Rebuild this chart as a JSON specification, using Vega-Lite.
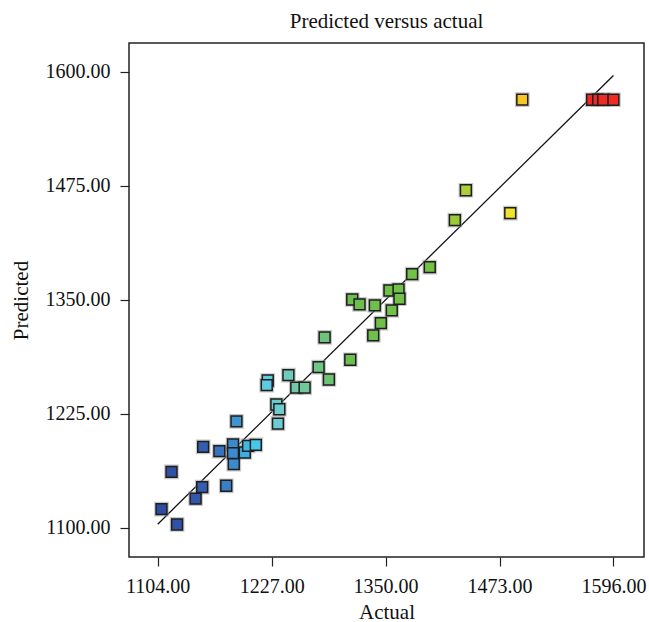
{
  "$schema": "https://vega.github.io/schema/vega-lite/v6.json",
  "autosize": {"type": "none"},
  "padding": {"left": 129, "top": 43, "right": 5, "bottom": 65},
  "width": 515,
  "height": 514,
  "background": "white",
  "title": {
    "text": "Predicted versus actual",
    "font": "Liberation Serif",
    "fontSize": 21,
    "fontWeight": "normal",
    "color": "#111",
    "baseline": "bottom",
    "offset": 11,
    "dy": 21,
    "anchor": "middle"
  },
  "config": {
    "view": {"stroke": "#222", "strokeWidth": 1.5},
    "axis": {
      "labelFont": "Liberation Serif",
      "labelFontSize": 20,
      "labelColor": "#111",
      "titleFont": "Liberation Serif",
      "titleFontSize": 21,
      "titleFontWeight": "normal",
      "titleColor": "#111",
      "tickColor": "#222",
      "tickSize": 9,
      "tickWidth": 1.2,
      "domain": false,
      "grid": false,
      "labelFlush": false
    }
  },
  "datasets": {
    "pts": [
      {"actual": 1108.1, "predicted": 1120.5},
      {"actual": 1124.9, "predicted": 1103.7},
      {"actual": 1118.9, "predicted": 1161.3},
      {"actual": 1144.9, "predicted": 1132.0},
      {"actual": 1152.0, "predicted": 1144.6},
      {"actual": 1153.1, "predicted": 1188.8},
      {"actual": 1178.0, "predicted": 1146.1},
      {"actual": 1170.6, "predicted": 1184.1},
      {"actual": 1185.3, "predicted": 1191.4},
      {"actual": 1185.3, "predicted": 1181.9},
      {"actual": 1186.1, "predicted": 1169.8},
      {"actual": 1189.0, "predicted": 1216.7},
      {"actual": 1198.0, "predicted": 1182.6},
      {"actual": 1201.6, "predicted": 1189.9},
      {"actual": 1209.9, "predicted": 1191.0},
      {"actual": 1222.8, "predicted": 1261.6},
      {"actual": 1221.7, "predicted": 1256.5},
      {"actual": 1245.1, "predicted": 1267.5},
      {"actual": 1232.1, "predicted": 1235.2},
      {"actual": 1235.3, "predicted": 1230.0},
      {"actual": 1233.8, "predicted": 1214.3},
      {"actual": 1253.6, "predicted": 1253.7},
      {"actual": 1262.6, "predicted": 1253.7},
      {"actual": 1277.7, "predicted": 1276.3},
      {"actual": 1288.8, "predicted": 1262.7},
      {"actual": 1284.2, "predicted": 1308.8},
      {"actual": 1311.9, "predicted": 1284.3},
      {"actual": 1314.0, "predicted": 1350.4},
      {"actual": 1321.9, "predicted": 1345.0},
      {"actual": 1338.4, "predicted": 1343.9},
      {"actual": 1336.7, "predicted": 1311.0},
      {"actual": 1344.9, "predicted": 1324.5},
      {"actual": 1356.7, "predicted": 1338.4},
      {"actual": 1354.2, "predicted": 1360.3},
      {"actual": 1364.0, "predicted": 1361.4},
      {"actual": 1365.0, "predicted": 1351.2},
      {"actual": 1378.7, "predicted": 1378.2},
      {"actual": 1397.7, "predicted": 1385.9},
      {"actual": 1424.8, "predicted": 1437.4},
      {"actual": 1436.7, "predicted": 1470.2},
      {"actual": 1484.6, "predicted": 1445.1},
      {"actual": 1497.6, "predicted": 1569.6},
      {"actual": 1573.0, "predicted": 1569.5},
      {"actual": 1579.5, "predicted": 1569.5},
      {"actual": 1585.0, "predicted": 1569.5},
      {"actual": 1596.0, "predicted": 1569.5}
    ],
    "fit": [
      {"actual": 1104, "predicted": 1104},
      {"actual": 1596, "predicted": 1596}
    ]
  },
  "encoding": {
    "x": {
      "field": "actual",
      "type": "quantitative",
      "scale": {"domain": [1073, 1629], "nice": false, "zero": false},
      "axis": {
        "title": "Actual",
        "values": [1104, 1227, 1350, 1473, 1596],
        "format": ".2f",
        "labelPadding": 10,
        "titlePadding": 5
      }
    },
    "y": {
      "field": "predicted",
      "type": "quantitative",
      "scale": {"domain": [1068, 1631.7], "nice": false, "zero": false},
      "axis": {
        "title": "Predicted",
        "values": [1100, 1225, 1350, 1475, 1600],
        "format": ".2f",
        "labelPadding": 10,
        "titlePadding": 14
      }
    }
  },
  "layer": [
    {
      "data": {"name": "fit"},
      "mark": {"type": "line", "color": "#111", "strokeWidth": 1.3},
      "encoding": {}
    },
    {
      "data": {"name": "pts"},
      "mark": {"type": "point", "shape": "square", "filled": false, "size": 125, "stroke": "#9a9a9a", "strokeWidth": 3.5, "opacity": 0.55},
      "encoding": {}
    },
    {
      "data": {"name": "pts"},
      "mark": {"type": "point", "shape": "square", "filled": true, "size": 118, "stroke": "#1e1e1e", "strokeWidth": 1.5, "opacity": 1},
      "encoding": {
        "fill": {
          "field": "actual",
          "type": "quantitative",
          "legend": null,
          "scale": {
            "type": "linear",
            "interpolate": "rgb",
            "domain": [1104, 1150, 1170, 1185, 1195, 1207, 1222, 1235, 1250, 1280, 1310, 1400, 1425, 1440, 1485, 1498, 1570, 1596],
            "range": ["#2d4b9f", "#3359ad", "#3872bd", "#3c88cc", "#3ca6dd", "#40c7ec", "#5fcae1", "#6ccccf", "#72caae", "#6ec581", "#6cbf4f", "#74c043", "#9bca35", "#b2d23a", "#f3e42b", "#f6c623", "#ee2b24", "#ee2b24"]
          }
        }
      }
    }
  ]
}
